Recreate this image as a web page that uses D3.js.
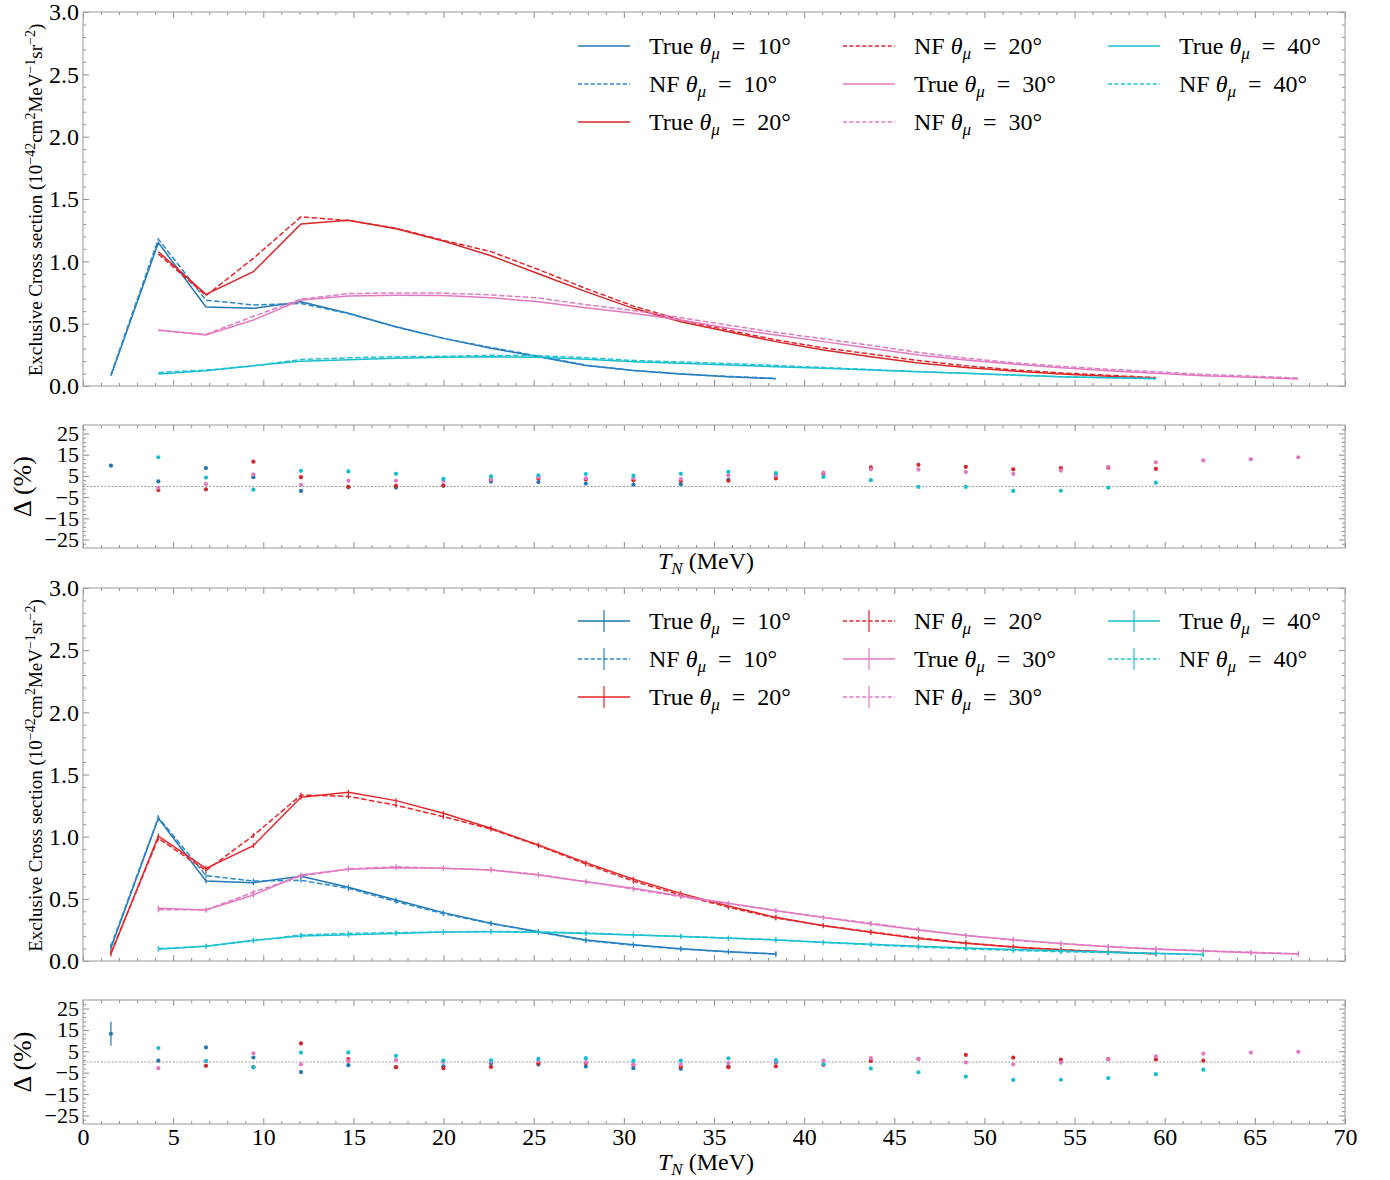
<!DOCTYPE html>
<html><head><meta charset="utf-8">
<script src="https://cdn.jsdelivr.net/npm/d3@7"></script>
<style>
body{margin:0;background:#fff}
svg{display:block}
</style>
</head><body>
<svg id="c" width="1390" height="1180" style="font-family:'Liberation Serif','Times New Roman',Times,'DejaVu Serif',serif"></svg>
<script>
// ---------------- DATA ----------------
const tN = [1.55, 4.18, 6.82, 9.45, 12.09, 14.72, 17.36, 19.99, 22.63, 25.26, 27.89, 30.53, 33.16,
            35.80, 38.43, 41.07, 43.70, 46.34, 48.97, 51.60, 54.24, 56.87, 59.51, 62.14, 64.78, 67.41];
const xTicks = [0, 5, 10, 15, 20, 25, 30, 35, 40, 45, 50, 55, 60, 65, 70];
const yTicksMain = [0.0, 0.5, 1.0, 1.5, 2.0, 2.5, 3.0];
const yTicksResid = [25, 15, 5, -5, -15, -25];
const angles = [10, 20, 30, 40];
const legendAngles = ["10", "10", "20", "20", "30", "30", "40", "40"];

// index in tN where each series starts
const topStart = [0, 1, 1, 1];
const botStart = [0, 0, 1, 1];

// top panel: True and NF
const topTrue10 = [0.083, 1.150, 0.634, 0.623, 0.676, 0.583, 0.476, 0.382, 0.302, 0.235, 0.165, 0.124, 0.096, 0.075, 0.059];
const topNF10   = [0.091, 1.178, 0.689, 0.650, 0.662, 0.581, 0.474, 0.383, 0.309, 0.240, 0.167, 0.125, 0.097, 0.077, 0.062];
const topTrue20 = [1.077, 0.735, 0.917, 1.300, 1.330, 1.262, 1.163, 1.045, 0.900, 0.757, 0.623, 0.516, 0.436, 0.356, 0.289, 0.235, 0.185, 0.148, 0.120, 0.097, 0.079, 0.063];
const topNF20   = [1.059, 0.725, 1.024, 1.357, 1.327, 1.266, 1.169, 1.078, 0.934, 0.782, 0.641, 0.529, 0.448, 0.370, 0.306, 0.256, 0.204, 0.162, 0.130, 0.105, 0.086, 0.068];
const topTrue30 = [0.449, 0.409, 0.529, 0.690, 0.722, 0.727, 0.725, 0.708, 0.676, 0.628, 0.583, 0.529, 0.463, 0.409, 0.356, 0.302, 0.249, 0.209, 0.176, 0.147, 0.123, 0.102, 0.083, 0.070, 0.056];
const topNF30   = [0.446, 0.414, 0.559, 0.696, 0.741, 0.747, 0.745, 0.731, 0.706, 0.652, 0.606, 0.548, 0.488, 0.430, 0.379, 0.326, 0.269, 0.223, 0.187, 0.158, 0.134, 0.114, 0.093, 0.079, 0.064];
const topTrue40 = [0.096, 0.123, 0.163, 0.198, 0.211, 0.222, 0.230, 0.235, 0.230, 0.214, 0.195, 0.182, 0.168, 0.155, 0.142, 0.128, 0.115, 0.102, 0.088, 0.075, 0.067, 0.059];
const topNF40   = [0.109, 0.128, 0.161, 0.213, 0.226, 0.235, 0.238, 0.246, 0.242, 0.227, 0.205, 0.193, 0.180, 0.165, 0.148, 0.132, 0.115, 0.102, 0.086, 0.074, 0.067, 0.060];

// top residuals (%)
const topRes10 = [9.8, 2.4, 8.7, 4.4, -2.1, -0.4, -0.5, 0.3, 2.3, 2.1, 1.4, 0.9, 1.1, 3.2, 5.1];
const topRes20 = [-1.7, -1.4, 11.7, 4.4, -0.2, 0.3, 0.5, 3.2, 3.8, 3.3, 2.9, 2.6, 2.7, 3.8, 6.0, 9.0, 10.2, 9.3, 8.1, 8.7, 8.9, 8.3];
const topRes30 = [-0.6, 1.2, 5.7, 0.8, 2.7, 2.7, 2.7, 3.2, 4.4, 3.9, 3.9, 3.5, 5.3, 5.1, 6.5, 8.1, 8.0, 6.8, 6.0, 7.5, 9.3, 11.4, 12.3, 12.9, 13.8];
const topRes40 = [13.8, 4.2, -1.5, 7.4, 7.1, 6.0, 3.6, 4.8, 5.3, 5.9, 5.1, 6.0, 6.9, 6.3, 4.5, 3.0, -0.2, -0.2, -2.1, -2.0, -0.6, 1.8];

// bottom panel: True and NF
const botTrue10 = [0.105, 1.148, 0.643, 0.630, 0.681, 0.593, 0.490, 0.389, 0.303, 0.236, 0.169, 0.131, 0.099, 0.075, 0.056];
const botNF10   = [0.119, 1.155, 0.687, 0.643, 0.649, 0.584, 0.478, 0.381, 0.301, 0.233, 0.165, 0.127, 0.096, 0.074, 0.056];
const botTrue20 = [0.056, 1.005, 0.745, 0.928, 1.317, 1.357, 1.290, 1.188, 1.067, 0.933, 0.791, 0.657, 0.544, 0.442, 0.351, 0.284, 0.231, 0.180, 0.142, 0.112, 0.090, 0.072, 0.058];
const botNF20   = [0.066, 0.987, 0.727, 1.009, 1.335, 1.324, 1.253, 1.161, 1.061, 0.928, 0.780, 0.642, 0.531, 0.433, 0.346, 0.285, 0.234, 0.186, 0.145, 0.113, 0.091, 0.073, 0.058];
const botTrue30 = [0.424, 0.410, 0.531, 0.692, 0.737, 0.751, 0.745, 0.732, 0.692, 0.638, 0.585, 0.523, 0.464, 0.405, 0.349, 0.298, 0.249, 0.205, 0.170, 0.140, 0.115, 0.095, 0.080, 0.067, 0.056];
const botNF30   = [0.412, 0.411, 0.553, 0.684, 0.741, 0.758, 0.745, 0.733, 0.695, 0.638, 0.578, 0.517, 0.462, 0.406, 0.351, 0.303, 0.253, 0.205, 0.168, 0.140, 0.116, 0.098, 0.083, 0.070, 0.059];
const botTrue40 = [0.094, 0.118, 0.166, 0.201, 0.212, 0.222, 0.233, 0.236, 0.231, 0.222, 0.209, 0.198, 0.182, 0.169, 0.150, 0.134, 0.118, 0.105, 0.093, 0.082, 0.072, 0.062, 0.053];
const botNF40   = [0.100, 0.119, 0.162, 0.210, 0.222, 0.228, 0.234, 0.238, 0.234, 0.226, 0.210, 0.199, 0.185, 0.171, 0.148, 0.130, 0.112, 0.098, 0.085, 0.075, 0.067, 0.058, 0.051];

// bottom residuals (%)
const botRes10 = [13.2, 0.6, 6.8, 2.1, -4.7, -1.5, -2.4, -2.0, -0.6, -1.2, -2.1, -2.9, -3.2, -2.0, -0.2];
const botRes10Err = [5.6, 0.4, 0.4, 0.3, 0.3, 0.3, 0.3, 0.3, 0.3, 0.3, 0.3, 0.3, 0.3, 0.3, 0.3];
const botRes20 = [null, -1.8, -2.4, 8.7, 1.4, -2.4, -2.9, -2.3, -0.6, -0.5, -1.4, -2.3, -2.4, -2.0, -1.4, 0.5, 1.5, 3.3, 2.0, 1.1, 1.4, 1.2, 0.6];
const botRes30 = [-2.9, 0.3, 4.1, -1.1, 0.5, 0.9, 0.0, 0.2, 0.5, 0.0, -1.2, -1.2, -0.5, 0.3, 0.6, 1.8, 1.5, -0.2, -1.1, -0.3, 1.2, 2.7, 3.9, 4.4, 4.8];
const botRes40 = [6.5, 0.5, -2.4, 4.4, 4.5, 2.9, 0.6, 0.8, 1.5, 1.8, 0.5, 0.6, 1.7, 0.9, -1.1, -3.0, -4.8, -6.8, -8.4, -8.3, -7.5, -5.7, -3.6];

// ---------------- STYLE ----------------
const SERIF = "'Liberation Serif','Times New Roman',Times,'DejaVu Serif',serif";
const trueColors = {10: "#1f77b4", 20: "#d62728", 30: "#e377c2", 40: "#17becf"};
const nfColors   = {10: "#2a86cc", 20: "#e4262b", 30: "#e07ac0", 40: "#1fc3d4"};
const botTrueColors = {10: "#1f77b4", 20: "#e8252a", 30: "#e377c2", 40: "#17becf"};
const spine = "#a8a8a8";
const FS = 24;

const svg = d3.select("#c");
const X0 = 83, X1 = 1345;
const x = d3.scaleLinear().domain([0, 70]).range([X0, X1]);

function pairs(arr, start) {
  const out = [];
  arr.forEach((v, i) => { if (v !== null && v !== undefined) out.push([tN[start + i], v, i]); });
  return out;
}

function axes(y, top, bot, yMajor, yMinor, yFmt, showXLabels, yFS) {
  const g = svg.append("g");
  const xMinor = d3.range(0, 71, 1).filter(v => v % 5 !== 0);
  const xa = g.append("g").attr("transform", `translate(0,${bot})`)
    .call(d3.axisBottom(x).tickValues(xTicks).tickSize(-6).tickPadding(4)
      .tickFormat(showXLabels ? d3.format("d") : () => ""));
  g.append("g").attr("transform", `translate(0,${bot})`)
    .call(d3.axisBottom(x).tickValues(xMinor).tickSize(-3).tickFormat(() => ""));
  g.append("g").attr("transform", `translate(0,${top})`)
    .call(d3.axisTop(x).tickValues(xTicks).tickSize(-6).tickFormat(() => ""));
  g.append("g").attr("transform", `translate(0,${top})`)
    .call(d3.axisTop(x).tickValues(xMinor).tickSize(-3).tickFormat(() => ""));
  const ya = g.append("g").attr("transform", `translate(${X0},0)`)
    .call(d3.axisLeft(y).tickValues(yMajor).tickSize(-6).tickPadding(4).tickFormat(yFmt));
  g.append("g").attr("transform", `translate(${X0},0)`)
    .call(d3.axisLeft(y).tickValues(yMinor).tickSize(-3).tickFormat(() => ""));
  g.append("g").attr("transform", `translate(${X1},0)`)
    .call(d3.axisRight(y).tickValues(yMajor).tickSize(-6).tickFormat(() => ""));
  g.append("g").attr("transform", `translate(${X1},0)`)
    .call(d3.axisRight(y).tickValues(yMinor).tickSize(-3).tickFormat(() => ""));
  g.selectAll(".domain").remove();
  g.selectAll("g").attr("font-family", null).attr("font-size", null);
  g.selectAll(".tick line").attr("stroke", "#8c8c8c").attr("stroke-width", 1);
  xa.selectAll(".tick text").attr("font-size", FS).attr("fill", "#000");
  ya.selectAll(".tick text").attr("font-size", yFS).attr("fill", "#000");
  g.append("rect").attr("x", X0).attr("y", top).attr("width", X1 - X0).attr("height", bot - top)
    .attr("fill", "none").attr("stroke", spine).attr("stroke-width", 1.2);
}

function mainPanel(top, bot, data, starts, withErr, legendTop) {
  const y = d3.scaleLinear().domain([0, 3]).range([bot, top]);
  const yMinor = d3.range(0, 31, 1).filter(v => v % 5 !== 0).map(v => v / 10);
  axes(y, top, bot, yTicksMain, yMinor, d3.format(".1f"), false, FS);
  const line = d3.line().x(d => x(d[0])).y(d => y(d[1]));
  const g = svg.append("g");
  angles.forEach((a, k) => {
    const tc = withErr ? botTrueColors[a] : trueColors[a];
    const tp = pairs(data[a].t, starts[k]);
    const np = pairs(data[a].n, starts[k]);
    g.append("path").datum(tp).attr("d", line).attr("fill", "none").attr("stroke", tc).attr("stroke-width", 1.5);
    if (withErr) g.selectAll(null).data(tp).enter().append("line")
      .attr("x1", d => x(d[0])).attr("x2", d => x(d[0])).attr("y1", d => y(d[1]) - 2.5).attr("y2", d => y(d[1]) + 2.5)
      .attr("stroke", tc).attr("stroke-width", 1.2);
    g.append("path").datum(np).attr("d", line).attr("fill", "none").attr("stroke", nfColors[a]).attr("stroke-width", 1.5)
      .attr("stroke-dasharray", "5.5,2.4");
    if (withErr) g.selectAll(null).data(np).enter().append("line")
      .attr("x1", d => x(d[0])).attr("x2", d => x(d[0])).attr("y1", d => y(d[1]) - 2.5).attr("y2", d => y(d[1]) + 2.5)
      .attr("stroke", nfColors[a]).attr("stroke-width", 1.2);
  });
  // legend
  const entries = [];
  angles.forEach(a => {
    entries.push({kind: "True", a, color: withErr ? botTrueColors[a] : trueColors[a], dash: null});
    entries.push({kind: "NF", a, color: nfColors[a], dash: "4,2.4"});
  });
  const colX = [578, 843, 1108];
  const lg = svg.append("g");
  entries.forEach((e, i) => {
    const c = Math.floor(i / 3), r = i % 3;
    const lx = colX[c], ly = legendTop + r * 38;
    lg.append("line").attr("x1", lx).attr("x2", lx + 52).attr("y1", ly).attr("y2", ly)
      .attr("stroke", e.color).attr("stroke-width", 1.5).attr("stroke-dasharray", e.dash);
    if (withErr) lg.append("line").attr("x1", lx + 26).attr("x2", lx + 26).attr("y1", ly - 11).attr("y2", ly + 11)
      .attr("stroke", e.color).attr("stroke-width", 1.2);
    const t = lg.append("text").attr("x", lx + 71).attr("y", ly + 8).attr("font-size", FS);
    t.append("tspan").text(e.kind + " ");
    t.append("tspan").attr("font-style", "italic").text("θ");
    t.append("tspan").attr("font-style", "italic").attr("font-size", 17).attr("dy", 5).text("μ");
    t.append("tspan").attr("dy", -5).text("\u2002=\u2002" + legendAngles[i] + "°");
  });
  // y label
  const yl = svg.append("text").attr("transform", `translate(42,${(top + bot) / 2 + 1}) rotate(-90)`)
    .attr("text-anchor", "middle").attr("font-size", 19);
  yl.append("tspan").text("Exclusive Cross section (10");
  yl.append("tspan").attr("font-size", 14).attr("dy", -7).text("\u221242");
  yl.append("tspan").attr("dy", 7).text("cm");
  yl.append("tspan").attr("font-size", 14).attr("dy", -7).text("2");
  yl.append("tspan").attr("dy", 7).text("MeV");
  yl.append("tspan").attr("font-size", 14).attr("dy", -7).text("\u22121");
  yl.append("tspan").attr("dy", 7).text("sr");
  yl.append("tspan").attr("font-size", 14).attr("dy", -7).text("\u22122");
  yl.append("tspan").attr("dy", 7).text(")");
}

function residPanel(top, bot, res, starts, showXLabels, errs) {
  const y = d3.scaleLinear().domain([-29, 29]).range([bot, top]);
  const yMinor = d3.range(-27, 28, 2).filter(v => !yTicksResid.includes(v));
  axes(y, top, bot, yTicksResid, yMinor, d => d < 0 ? "\u2212" + Math.abs(d) : String(d), showXLabels, 22);
  const g = svg.append("g");
  g.append("line").attr("x1", X0).attr("x2", X1).attr("y1", y(0)).attr("y2", y(0))
    .attr("stroke", "#9a9a9a").attr("stroke-width", 1).attr("stroke-dasharray", "2,1.6");
  angles.forEach((a, k) => {
    const p = pairs(res[a], starts[k]);
    if (errs && errs[a]) {
      g.selectAll(null).data(p).enter().append("line")
        .attr("x1", d => x(d[0])).attr("x2", d => x(d[0]))
        .attr("y1", d => y(d[1] - errs[a][d[2]])).attr("y2", d => y(d[1] + errs[a][d[2]]))
        .attr("stroke", trueColors[a]).attr("stroke-width", 1.2);
    }
    g.selectAll(null).data(p).enter().append("circle")
      .attr("cx", d => x(d[0])).attr("cy", d => y(d[1])).attr("r", 2.1).attr("fill", trueColors[a]);
  });
  // y label
  svg.append("text").attr("transform", `translate(31,${(top + bot) / 2}) rotate(-90)`)
    .attr("text-anchor", "middle").attr("font-size", 26).text("Δ (%)");
  // x label
  const xl = svg.append("text").attr("x", (X0 + X1) / 2 - 8).attr("y", bot + (showXLabels ? 46 : 21)).attr("text-anchor", "middle")
    .attr("font-size", FS);
  xl.append("tspan").attr("font-style", "italic").text("T");
  xl.append("tspan").attr("font-style", "italic").attr("font-size", 17).attr("dy", 5).text("N");
  xl.append("tspan").attr("dy", -5).text(" (MeV)");
}

const topData = {10: {t: topTrue10, n: topNF10}, 20: {t: topTrue20, n: topNF20}, 30: {t: topTrue30, n: topNF30}, 40: {t: topTrue40, n: topNF40}};
const botData = {10: {t: botTrue10, n: botNF10}, 20: {t: botTrue20, n: botNF20}, 30: {t: botTrue30, n: botNF30}, 40: {t: botTrue40, n: botNF40}};

mainPanel(12, 386, topData, topStart, false, 46);
residPanel(425, 548, {10: topRes10, 20: topRes20, 30: topRes30, 40: topRes40}, topStart, false, null);
mainPanel(588, 961, botData, botStart, true, 621);
residPanel(1000, 1124, {10: botRes10, 20: botRes20, 30: botRes30, 40: botRes40}, [0, 1, 1, 1], true, {10: botRes10Err});

svg.selectAll("text").style("font-family", SERIF).style("fill", "#000");
</script>
</body></html>
